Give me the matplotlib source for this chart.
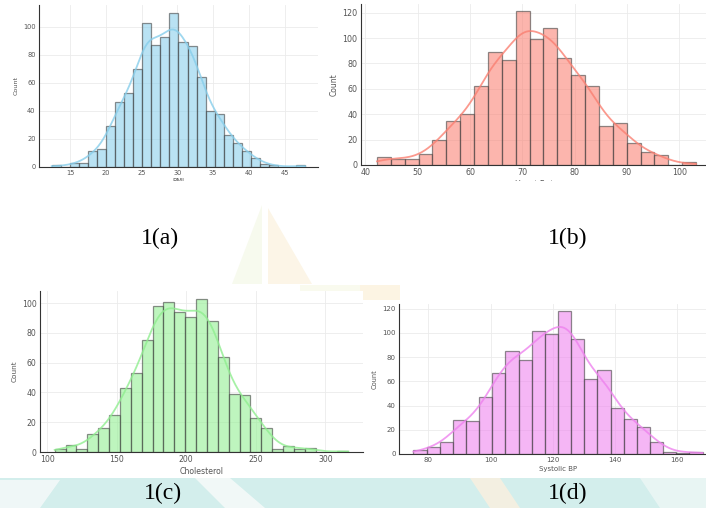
import numpy as np
import matplotlib
matplotlib.use("Agg")
import matplotlib.pyplot as plt
from matplotlib.patches import Polygon, Rectangle

# ---------------- data ----------------
bmi_range = (12.4, 47.9)
bmi_counts = [1, 0, 3, 3, 11, 13, 29, 46, 53, 70, 103, 87, 93, 110, 89, 86, 64,
              40, 38, 23, 17, 11, 6, 2, 1, 0, 0, 1]
hr_range = (42.2, 103.2)
hr_counts = [6, 5, 5, 9, 20, 35, 40, 62, 89, 83, 121, 99, 108, 84, 71, 62, 31,
             33, 17, 10, 8, 0, 2]
chol_range = (105.5, 316.5)
chol_counts = [2, 5, 2, 12, 16, 25, 43, 53, 75, 98, 101, 94, 91, 103, 88, 64, 39,
               38, 23, 16, 2, 4, 2, 3, 0, 0, 1]
sbp_range = (75.2, 168.2)
sbp_counts = [3, 6, 10, 28, 27, 47, 67, 85, 78, 102, 99, 118, 95, 62, 69, 38, 29,
              22, 10, 2, 1, 2]

x_labels = ["BMI", "Heart Rate", "Cholesterol", "Systolic BP"]
captions = ["1(a)", "1(b)", "1(c)", "1(d)"]
bar_colors = ["skyblue", "salmon", "lightgreen", "violet"]
bmi_ticks = [15, 20, 25, 30, 35, 40, 45]
hr_ticks = [40, 50, 60, 70, 80, 90, 100]
chol_ticks = [100, 150, 200, 250, 300]
sbp_ticks = [80, 100, 120, 140, 160]
y_ticks_a = [0, 20, 40, 60, 80, 100]
y_ticks_b = [0, 20, 40, 60, 80, 100, 120]
y_ticks_c = [0, 20, 40, 60, 80, 100]
y_ticks_d = [0, 20, 40, 60, 80, 100, 120]

# ---------------- figure ----------------
W, H = 706, 508
fig = plt.figure(figsize=(W / 100, H / 100), dpi=100)
fig.patch.set_facecolor("white")


def px_rect(l, t, r, b):
    return [l / W, 1 - b / H, (r - l) / W, (b - t) / H]


def fpoly(pts, color, alpha, z=-5):
    p = Polygon([(x / W, 1 - y / H) for x, y in pts], closed=True,
                transform=fig.transFigure, facecolor=color, edgecolor="none",
                alpha=alpha, zorder=z)
    fig.patches.append(p)
    return p


# faint background watermark (behind the panels)
fpoly([(300, 285), (360, 285), (360, 298), (300, 298)], "#eef3cf", 0.35)
fpoly([(360, 285), (400, 285), (400, 300), (360, 300)], "#f8e2b0", 0.35)
# bottom band
fig.patches.append(Rectangle((0, 0), 1, 30 / H, transform=fig.transFigure,
                             facecolor="#d3eeec", edgecolor="none", zorder=-6))
fpoly([(0, 480), (60, 480), (40, 508), (0, 508)], "#f3f9f9", 0.9)
fpoly([(195, 478), (230, 478), (265, 508), (225, 508)], "#f5faf9", 0.9)
fpoly([(470, 478), (500, 478), (520, 508), (490, 508)], "#f7f0e0", 0.9)
fpoly([(640, 478), (706, 478), (706, 508), (660, 508)], "#eef7f6", 0.8)

panels = [
    (bmi_range, bmi_counts, bmi_ticks, y_ticks_a, px_rect(39, 5, 318, 166.7), 4.8),
    (hr_range, hr_counts, hr_ticks, y_ticks_b, px_rect(361, 3.7, 712, 165), 5.8),
    (chol_range, chol_counts, chol_ticks, y_ticks_c, px_rect(40, 291, 363, 452), 5.6),
    (sbp_range, sbp_counts, sbp_ticks, y_ticks_d, px_rect(399, 304, 717, 454), 5.0),
]

for i, (rng, counts, xt, yt, rect, fs) in enumerate(panels):
    counts = np.asarray(counts, dtype=float)
    edges = np.linspace(rng[0], rng[1], len(counts) + 1)
    centers = 0.5 * (edges[:-1] + edges[1:])
    width = edges[1] - edges[0]

    ax = fig.add_axes(rect)
    ax.set_facecolor("white")
    ax.hist(centers, bins=edges, weights=counts, color=bar_colors[i], alpha=0.58,
            edgecolor="#3a3a3a", linewidth=0.9, zorder=2)
    for p in ax.patches:
        p.set_edgecolor((0.24, 0.24, 0.24, 1.0))

    # kernel density estimate from the binned counts
    n = counts.sum()
    mean = (centers * counts).sum() / n
    var = (counts * (centers - mean) ** 2).sum() / (n - 1)
    bw = np.sqrt(var) * n ** (-0.2)
    kvar = bw ** 2 + width ** 2 / 12.0
    grid = np.linspace(rng[0], rng[1], 300)
    dens = (counts[None, :] * np.exp(-0.5 * (grid[:, None] - centers[None, :]) ** 2 / kvar)).sum(1)
    dens /= n * np.sqrt(2 * np.pi * kvar)
    ax.plot(grid, dens * n * width, color=bar_colors[i], lw=1.3, alpha=0.8, zorder=3)

    ax.set_xticks(xt)
    ax.set_yticks(yt)
    span = rng[1] - rng[0]
    ax.set_xlim(rng[0] - 0.05 * span, rng[1] + 0.05 * span)
    ax.set_ylim(0, counts.max() * 1.05)
    ax.grid(True, color="#ebebeb", lw=0.6)
    ax.set_axisbelow(True)
    for s in ("top", "right"):
        ax.spines[s].set_visible(False)
    for s in ("left", "bottom"):
        ax.spines[s].set_color("#333333")
        ax.spines[s].set_linewidth(0.8)
    ax.tick_params(length=0, labelsize=fs, labelcolor="#555555", pad=2.5)
    ax.set_xlabel(x_labels[i], fontsize=fs, color="#555555", labelpad=1.5)
    ax.set_ylabel("Count", fontsize=fs * 0.95, color="#555555", labelpad=3)

# white cover to crop the panel images like in the reference
fig.patches.append(Rectangle((0, 1 - 284 / H), 1, (284 - 181) / H,
                             transform=fig.transFigure, facecolor="white",
                             edgecolor="none", zorder=1))
fpoly([(262, 205), (232, 284), (262, 284)], "#e6efc8", 0.3, z=2)
fpoly([(268, 208), (268, 284), (312, 284)], "#f6dfb0", 0.3, z=2)

cap_pos = [(160, 238), (568, 238), (163, 493), (568, 493)]
for (x, y), c in zip(cap_pos, captions):
    fig.text(x / W, 1 - y / H, c, ha="center", va="center", fontsize=17,
             family=["Liberation Serif", "DejaVu Serif"], color="black", zorder=5)

fig.savefig("out.png", dpi=100)
